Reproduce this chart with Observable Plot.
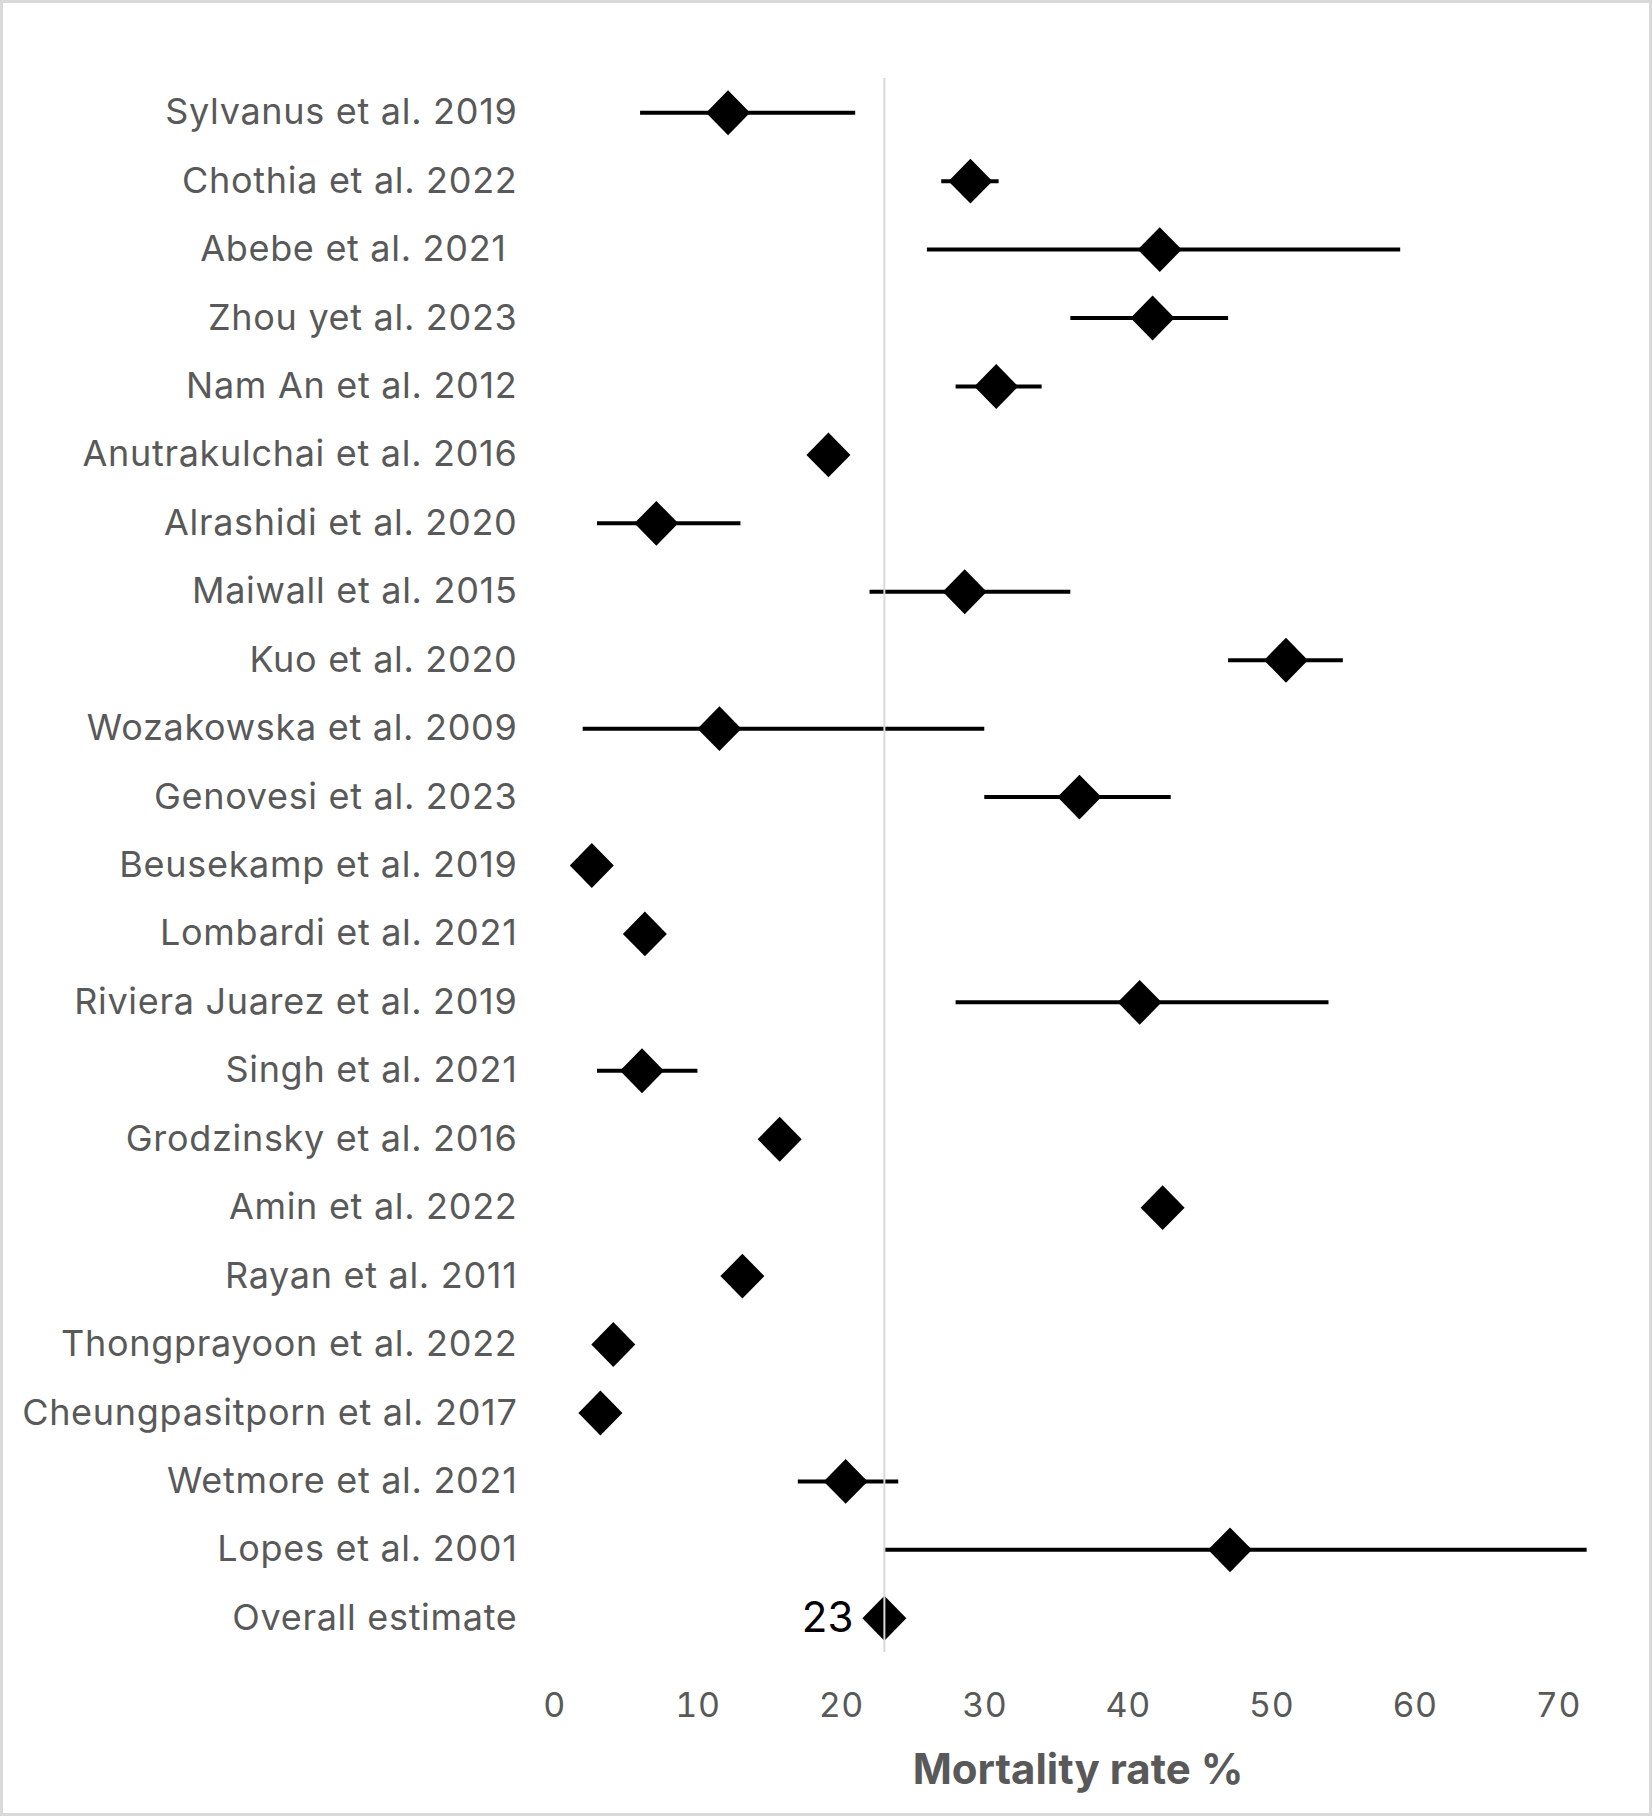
<!DOCTYPE html>
<html>
<head>
<meta charset="utf-8">
<script src="https://cdn.jsdelivr.net/npm/d3@7"></script>
<script src="https://cdn.jsdelivr.net/npm/@observablehq/plot@0.6"></script>
<style>
  html, body { margin: 0; padding: 0; background: #fff; }
  #chart svg { display: block; outline: 3px solid #d9d9d9; outline-offset: -3px; }
  #chart g[aria-label="y-axis tick label"] text { letter-spacing: 0.7px; }
  #chart g[aria-label="x-axis tick label"] text { letter-spacing: 0.6px; }
</style>
</head>
<body>
<div id="chart"></div>
<script>
// Study labels, top to bottom
const studies = [
  "Sylvanus et al. 2019",
  "Chothia et al. 2022",
  "Abebe et al. 2021\u00a0",
  "Zhou yet al. 2023",
  "Nam An et al. 2012",
  "Anutrakulchai et al. 2016",
  "Alrashidi et al. 2020",
  "Maiwall et al. 2015",
  "Kuo et al. 2020",
  "Wozakowska et al. 2009",
  "Genovesi et al. 2023",
  "Beusekamp et al. 2019",
  "Lombardi et al. 2021",
  "Riviera Juarez et al. 2019",
  "Singh et al. 2021",
  "Grodzinsky et al. 2016",
  "Amin et al. 2022",
  "Rayan et al. 2011",
  "Thongprayoon et al. 2022",
  "Cheungpasitporn et al. 2017",
  "Wetmore et al. 2021",
  "Lopes et al. 2001",
  "Overall estimate"
];

// Mortality rate (%) point estimates
const estimates = [12.1, 29, 42.2, 41.7, 30.8, 19.1, 7.1, 28.6, 51, 11.5, 36.6, 2.6, 6.3, 40.8, 6.1, 15.7, 42.4, 13.1, 4.1, 3.2, 20.3, 47.1, 23];

// Confidence interval bounds (null where no interval is shown)
const lower = [6, 27, 26, 36, 28, null, 3, 22, 47, 2, 30, null, null, 28, 3, null, null, null, null, null, 17, 23, null];
const upper = [21, 31, 59, 47, 34, null, 13, 36, 55, 30, 43, null, null, 54, 10, null, null, null, null, null, 24, 72, null];

// x-axis ticks and title
const xTicks = [0, 10, 20, 30, 40, 50, 60, 70];
const xTitle = "Mortality rate %";

const rows = studies.map((study, i) => ({study, est: estimates[i], lo: lower[i], hi: upper[i]}));
const overall = rows[rows.length - 1];

// Rhombus marker, very slightly taller than wide
const rhombus = {
  draw(ctx, size) {
    const r = Math.sqrt(size / Math.PI);
    const h = r * 1.02;
    ctx.moveTo(0, -h);
    ctx.lineTo(r, 0);
    ctx.lineTo(0, h);
    ctx.lineTo(-r, 0);
    ctx.closePath();
  }
};

const chart = Plot.plot({
  width: 1652,
  height: 1816,
  marginLeft: 554,
  marginRight: 51,
  marginTop: 78,
  marginBottom: 164,
  x: {domain: [0, 73]},
  y: {type: "point", domain: studies, padding: 0.5, round: false},
  style: {fontFamily: "Inter, 'Open Sans', sans-serif", fontSize: "36px", color: "#595959", background: "#fff"},
  marks: [
    Plot.axisY({tickSize: 0, tickPadding: 37, label: null}),
    Plot.axisX({ticks: xTicks, tickSize: 0, tickPadding: 40, fontSize: 34, label: null}),
    Plot.ruleY(rows.filter(d => d.lo != null), {y: "study", x1: "lo", x2: "hi", stroke: "#000", strokeWidth: 4}),
    Plot.dot(rows, {x: "est", y: "study", symbol: rhombus, r: 22, fill: "#000"}),
    Plot.text([overall], {x: "est", y: "study", text: d => d3.format(".0f")(d.est), textAnchor: "end", dx: -31, fill: "#000", fontSize: 42}),
    Plot.ruleX([overall.est], {stroke: "#d9d9d9", strokeWidth: 2}),
    Plot.text([xTitle], {frameAnchor: "bottom", lineAnchor: "middle", text: d => d, dy: 118, fontWeight: "bold", fontSize: 42, fill: "#595959"})
  ]
});

document.getElementById("chart").append(chart);
</script>
</body>
</html>
